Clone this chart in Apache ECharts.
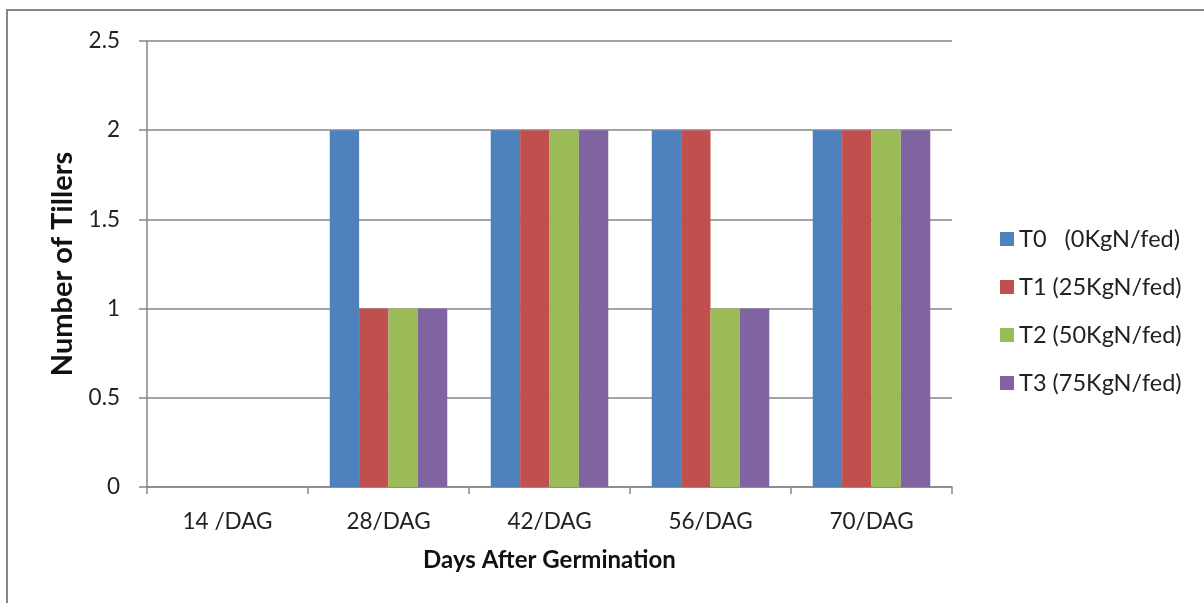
<!DOCTYPE html>
<html><head><meta charset="utf-8">
<script src="https://cdn.jsdelivr.net/npm/echarts@6/dist/echarts.min.js"></script>
<style>html,body{margin:0;padding:0;background:#fff}#c{width:1204px;height:603px}</style>
</head><body><div id="c"></div>
<script>
const categories = ['14 /DAG', '28/DAG', '42/DAG', '56/DAG', '70/DAG'];
const seriesNames = ['T0   (0KgN/fed)', 'T1 (25KgN/fed)', 'T2 (50KgN/fed)', 'T3 (75KgN/fed)'];
const t0 = [0, 2, 2, 2, 2];
const t1 = [0, 1, 2, 2, 2];
const t2 = [0, 1, 2, 1, 2];
const t3 = [0, 1, 2, 1, 2];
const colors = ['#4F81BD', '#C0504D', '#9BBB59', '#8064A2'];
const values = [t0, t1, t2, t3];
const font = 'Lato, "Open Sans", sans-serif';

const chart = echarts.init(document.getElementById('c'));
chart.setOption({
  animation: false,
  textStyle: {fontFamily: font},
  graphic: [{type: 'rect', shape: {x: 7, y: 10, width: 1210, height: 610}, style: {fill: 'none', stroke: '#868686', lineWidth: 2}, z: -1}],
  grid: {left: 147, top: 41, width: 805, height: 446, containLabel: false},
  legend: {
    orient: 'vertical', left: 995, top: 222, itemGap: 24, itemWidth: 14, itemHeight: 14,
    icon: 'rect', textStyle: {fontSize: 23.5, color: '#222', fontFamily: font}
  },
  xAxis: {
    type: 'category', data: categories,
    name: 'Days After Germination', nameLocation: 'middle', nameGap: 61,
    nameTextStyle: {fontSize: 24, fontWeight: 'bold', color: '#111', fontFamily: font},
    axisLine: {lineStyle: {color: '#868686', width: 1.5}},
    axisTick: {show: true, length: 7, lineStyle: {color: '#868686', width: 1.5}},
    axisLabel: {fontSize: 22.5, color: '#222', margin: 23}
  },
  yAxis: {
    type: 'value', min: 0, max: 2.5, interval: 0.5,
    name: 'Number of Tillers', nameLocation: 'middle', nameGap: 70,
    nameTextStyle: {fontSize: 29, fontWeight: 'bold', color: '#111', fontFamily: font},
    axisLine: {show: true, lineStyle: {color: '#868686', width: 1.5}},
    axisTick: {show: true, length: 8, lineStyle: {color: '#868686', width: 1.5}},
    axisLabel: {fontSize: 22.5, color: '#222', margin: 27},
    splitLine: {lineStyle: {color: '#868686', width: 1.5}}
  },
  series: seriesNames.map((n, i) => ({
    name: n, type: 'bar', data: values[i], barGap: '0%', barCategoryGap: '27%',
    itemStyle: {color: colors[i]}
  }))
});
</script></body></html>
